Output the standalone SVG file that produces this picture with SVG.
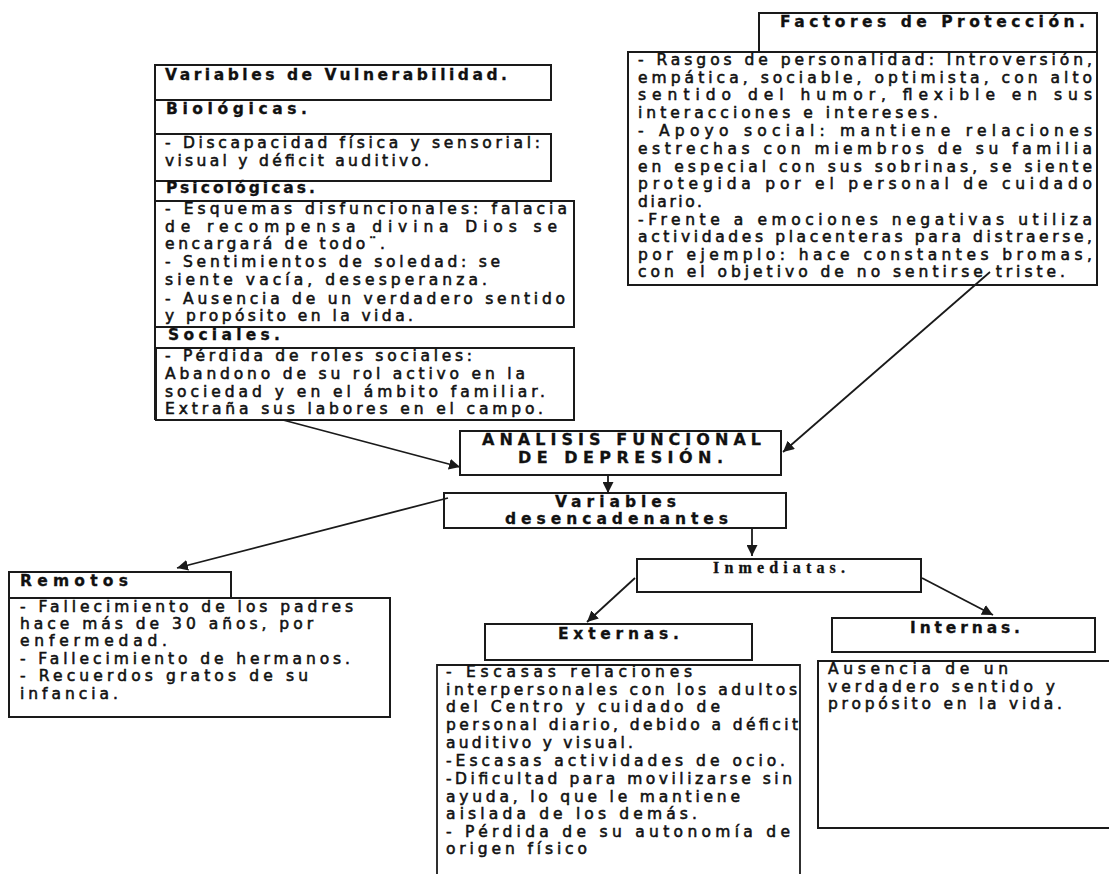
<svg xmlns="http://www.w3.org/2000/svg" width="1109" height="874" viewBox="0 0 1109 874">
  <style>
    .box { fill: #fff; stroke: #1a1a1a; stroke-width: 2; }
    .edge { fill: none; stroke: #1a1a1a; stroke-width: 1.8; }
    text { font-family: "DejaVu Sans", Verdana, sans-serif; font-size: 15.5px; fill: #111; }
    .b { font-weight: bold; stroke: #111; stroke-width: 0.3; }
    .t { stroke: #111; stroke-width: 0.55; }
    .h { font-weight: bold; font-size: 16px; stroke: #111; stroke-width: 0.3; }
    .serif { font-family: "Liberation Serif", "Times New Roman", serif; font-weight: bold; font-size: 16px; stroke: #111; stroke-width: 0.3; }
  </style>
  <defs>
    <marker id="arrow" viewBox="0 0 10 10" refX="10" refY="5" markerWidth="11" markerHeight="11" markerUnits="userSpaceOnUse" orient="auto">
      <path d="M0,0 L10,5 L0,10 z" fill="#1a1a1a"/>
    </marker>
  </defs>
  <rect width="1109" height="874" fill="#fff"/>

  <!-- Vulnerability variables column -->
  <g id="vulnerabilidad">
    <line x1="155" y1="65" x2="155" y2="420" stroke="#1a1a1a" stroke-width="2"/>
    <rect class="box" x="155" y="65" width="396" height="35"/>
    <text class="b" x="165" y="80" textLength="342" lengthAdjust="spacing">Variables de Vulnerabilidad.</text>
    <text class="b" x="166" y="114" textLength="141" lengthAdjust="spacing">Biológicas.</text>
    <rect class="box" x="155" y="134" width="396" height="47"/>
    <text class="t" x="165" y="148" textLength="375" lengthAdjust="spacing">- Discapacidad física y sensorial:</text>
    <text class="t" x="165" y="166" textLength="264" lengthAdjust="spacing">visual y déficit auditivo.</text>
    <text class="b" x="166" y="193" textLength="149" lengthAdjust="spacing">Psicológicas.</text>
    <rect class="box" x="155" y="201" width="419" height="126"/>
    <text class="t" x="165" y="214" textLength="402" lengthAdjust="spacing">-  Esquemas disfuncionales: falacia</text>
    <text class="t" x="165" y="232" textLength="392" lengthAdjust="spacing">de recompensa divina Dios se</text>
    <text class="t" x="165" y="249" textLength="220" lengthAdjust="spacing">encargará de todo¨.</text>
    <text class="t" x="165" y="267" textLength="335" lengthAdjust="spacing">- Sentimientos de soledad: se</text>
    <text class="t" x="165" y="285" textLength="322" lengthAdjust="spacing">siente vacía, desesperanza.</text>
    <text class="t" x="165" y="304" textLength="400" lengthAdjust="spacing">- Ausencia de un verdadero sentido</text>
    <text class="t" x="165" y="321" textLength="248" lengthAdjust="spacing">y propósito en la vida.</text>
    <text class="b" x="168" y="340" textLength="112" lengthAdjust="spacing">Sociales.</text>
    <rect class="box" x="156" y="348" width="418" height="72"/>
    <text class="t" x="165" y="361" textLength="307" lengthAdjust="spacing">- Pérdida de roles sociales:</text>
    <text class="t" x="165" y="379" textLength="360" lengthAdjust="spacing">Abandono de su rol activo en la</text>
    <text class="t" x="165" y="397" textLength="380" lengthAdjust="spacing">sociedad y en el ámbito familiar.</text>
    <text class="t" x="165" y="414" textLength="378" lengthAdjust="spacing">Extraña sus labores en el campo.</text>
  </g>

  <!-- Protective factors -->
  <g id="proteccion">
    <rect class="box" x="759" y="13" width="338" height="39"/>
    <text class="b" x="780" y="27" textLength="305" lengthAdjust="spacing">Factores de Protección.</text>
    <rect class="box" x="628" y="52" width="469" height="233"/>
    <text class="t" x="638" y="65" textLength="454" lengthAdjust="spacing">- Rasgos de personalidad: Introversión,</text>
    <text class="t" x="638" y="83" textLength="454" lengthAdjust="spacing">empática, sociable, optimista, con alto</text>
    <text class="t" x="638" y="100" textLength="454" lengthAdjust="spacing">sentido  del  humor,   flexible  en  sus</text>
    <text class="t" x="638" y="118" textLength="300" lengthAdjust="spacing">interacciones e intereses.</text>
    <text class="t" x="638" y="136" textLength="454" lengthAdjust="spacing">- Apoyo social: mantiene relaciones</text>
    <text class="t" x="638" y="154" textLength="454" lengthAdjust="spacing">estrechas con miembros de su familia</text>
    <text class="t" x="638" y="172" textLength="454" lengthAdjust="spacing">en especial con sus sobrinas, se siente</text>
    <text class="t" x="638" y="189" textLength="454" lengthAdjust="spacing">protegida  por el personal de cuidado</text>
    <text class="t" x="638" y="207" textLength="64" lengthAdjust="spacing">diario.</text>
    <text class="t" x="638" y="225" textLength="454" lengthAdjust="spacing">-Frente  a  emociones negativas utiliza</text>
    <text class="t" x="638" y="242" textLength="454" lengthAdjust="spacing">actividades placenteras para distraerse,</text>
    <text class="t" x="638" y="260" textLength="454" lengthAdjust="spacing">por ejemplo: hace constantes bromas,</text>
    <text class="t" x="638" y="277" textLength="427" lengthAdjust="spacing">con el objetivo de no sentirse triste.</text>
  </g>

  <!-- Central node -->
  <g id="analisis">
    <rect class="box" x="460" y="431" width="321" height="44"/>
    <text class="h" x="482" y="445" textLength="279" lengthAdjust="spacing">ANALISIS FUNCIONAL</text>
    <text class="h" x="518" y="463" textLength="205" lengthAdjust="spacing">DE DEPRESIÓN.</text>
  </g>

  <g id="desencadenantes">
    <rect class="box" x="444" y="493" width="342" height="35"/>
    <text class="b" x="555" y="507" textLength="121" lengthAdjust="spacing">Variables</text>
    <text class="b" x="505" y="524" textLength="223" lengthAdjust="spacing">desencadenantes</text>
  </g>

  <g id="remotos">
    <rect class="box" x="9" y="572" width="222" height="26"/>
    <text class="b" x="20" y="586" textLength="108" lengthAdjust="spacing">Remotos</text>
    <rect class="box" x="9" y="598" width="381" height="119"/>
    <text class="t" x="20" y="612" textLength="333" lengthAdjust="spacing">- Fallecimiento de los  padres</text>
    <text class="t" x="20" y="629" textLength="293" lengthAdjust="spacing">hace más de 30 años, por</text>
    <text class="t" x="20" y="646" textLength="147" lengthAdjust="spacing">enfermedad.</text>
    <text class="t" x="20" y="664" textLength="330" lengthAdjust="spacing">- Fallecimiento de hermanos.</text>
    <text class="t" x="20" y="681" textLength="288" lengthAdjust="spacing">- Recuerdos gratos de su</text>
    <text class="t" x="20" y="699" textLength="98" lengthAdjust="spacing">infancia.</text>
  </g>

  <g id="inmediatas">
    <rect class="box" x="637" y="559" width="284" height="33"/>
    <text class="serif" x="713" y="573" textLength="132" lengthAdjust="spacing">Inmediatas.</text>
  </g>

  <g id="externas">
    <rect class="box" x="485" y="624" width="267" height="36"/>
    <text class="b" x="558" y="639" textLength="121" lengthAdjust="spacing">Externas.</text>
    <path class="edge" d="M437,880 V665 H800 V880" stroke-width="2"/>
    <text class="t" x="446" y="677" textLength="246" lengthAdjust="spacing">-  Escasas relaciones</text>
    <text class="t" x="446" y="695" textLength="351" lengthAdjust="spacing">interpersonales con los adultos</text>
    <text class="t" x="446" y="712" textLength="274" lengthAdjust="spacing">del Centro y cuidado de</text>
    <text class="t" x="446" y="730" textLength="352" lengthAdjust="spacing">personal diario, debido a déficit</text>
    <text class="t" x="446" y="748" textLength="187" lengthAdjust="spacing">auditivo y visual.</text>
    <text class="t" x="446" y="766" textLength="339" lengthAdjust="spacing">-Escasas actividades de ocio.</text>
    <text class="t" x="446" y="784" textLength="346" lengthAdjust="spacing">-Dificultad para movilizarse sin</text>
    <text class="t" x="446" y="802" textLength="294" lengthAdjust="spacing">ayuda, lo que le mantiene</text>
    <text class="t" x="446" y="819" textLength="251" lengthAdjust="spacing">aislada de los demás.</text>
    <text class="t" x="446" y="837" textLength="344" lengthAdjust="spacing">-  Pérdida de su autonomía de</text>
    <text class="t" x="446" y="854" textLength="141" lengthAdjust="spacing">origen físico</text>
  </g>

  <g id="internas">
    <rect class="box" x="832" y="618" width="263" height="34"/>
    <text class="b" x="910" y="633" textLength="110" lengthAdjust="spacing">Internas.</text>
    <rect class="box" x="818" y="661" width="300" height="167"/>
    <text class="t" x="828" y="674" textLength="180" lengthAdjust="spacing">Ausencia de un</text>
    <text class="t" x="828" y="692" textLength="227" lengthAdjust="spacing">verdadero sentido y</text>
    <text class="t" x="828" y="709" textLength="234" lengthAdjust="spacing">propósito en la vida.</text>
  </g>

  <!-- Connectors -->
  <g id="connectors">
    <line class="edge" x1="283" y1="420" x2="460" y2="467" marker-end="url(#arrow)"/>
    <line class="edge" x1="990" y1="272" x2="783" y2="452" marker-end="url(#arrow)"/>
    <line class="edge" x1="608" y1="475" x2="608" y2="493" marker-end="url(#arrow)"/>
    <line class="edge" x1="448" y1="498" x2="177" y2="568" marker-end="url(#arrow)"/>
    <line class="edge" x1="752" y1="528" x2="752" y2="556" marker-end="url(#arrow)"/>
    <line class="edge" x1="635" y1="578" x2="587" y2="622" marker-end="url(#arrow)"/>
    <line class="edge" x1="922" y1="578" x2="993" y2="615" marker-end="url(#arrow)"/>
  </g>
</svg>
